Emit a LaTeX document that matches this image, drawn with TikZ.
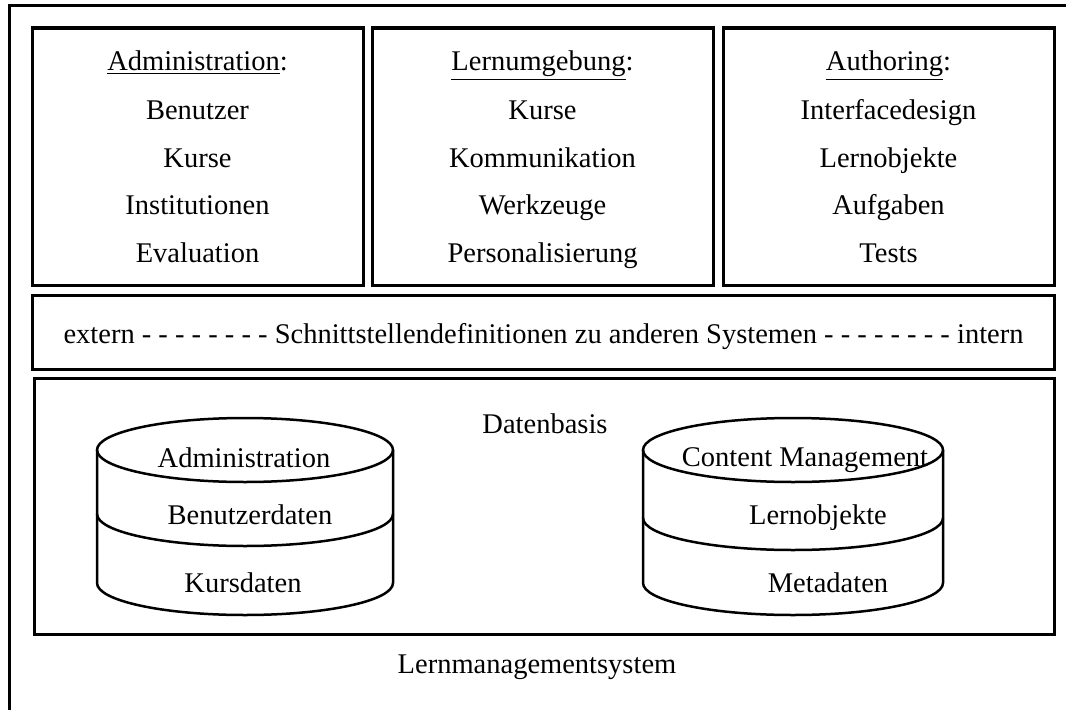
\documentclass[tikz,border=0pt]{standalone}
\usepackage{fontspec}
\setmainfont{Liberation Serif}
\begin{document}
\begin{tikzpicture}[x=0.5pt,y=0.5pt,
  frame/.style={draw=black, line width=1.5pt, line join=miter},
  box/.style={frame, anchor=south west, inner sep=0pt, outer sep=0pt},
  cyl/.style={draw=black, line width=1.25pt},
  txt/.style={anchor=base, inner sep=0pt, font=\fontsize{14.25}{17}\selectfont}]
\clip (0,0) rectangle (1066,709);
% outer frame (only left and top visible)
\draw[frame] (9,-10) -- (9,703) -- (1080,703);
% top boxes
\node[box, minimum width=165.5pt, minimum height=128.5pt] (bAdm) at (32,424) {};
\node[box, minimum width=170.5pt, minimum height=128.5pt] (bLern) at (372,424) {};
\node[box, minimum width=165.5pt, minimum height=128.5pt] (bAuth) at (723,424) {};
% interface box
\node[box, minimum width=511pt, minimum height=37pt] (bIf) at (32,340) {};
% database box
\node[box, minimum width=510pt, minimum height=128pt] (bDb) at (34,75) {};
% texts top boxes
\node[txt] (a0) at (197.5,639) {\underline{Administration}:};
\node[txt] (a1) at (197.5,590) {Benutzer};
\node[txt] (a2) at (197.5,542) {Kurse};
\node[txt] (a3) at (197.5,494.5) {Institutionen};
\node[txt] (a4) at (197.5,447) {Evaluation};
\node[txt] (l0) at (542.5,639) {\underline{Lernumgebung}:};
\node[txt] (l1) at (542.5,590) {Kurse};
\node[txt] (l2) at (542.5,542) {Kommunikation};
\node[txt] (l3) at (542.5,494.5) {Werkzeuge};
\node[txt] (l4) at (542.5,447) {Personalisierung};
\node[txt] (u0) at (888.5,639) {\underline{Authoring}:};
\node[txt] (u1) at (888.5,590) {Interfacedesign};
\node[txt] (u2) at (888.5,542) {Lernobjekte};
\node[txt] (u3) at (888.5,494.5) {Aufgaben};
\node[txt] (u4) at (888.5,447) {Tests};
% interface text
\node[txt] (ift) at (543.5,366) {extern - - - - - - - - Schnittstellendefinitionen zu anderen Systemen - - - - - - - - intern};
% database
\node[txt] (dbt) at (545,276) {Datenbasis};
% left cylinder
\draw[cyl] (245,259) ellipse [x radius=148, y radius=32];
\draw[cyl] (97,259) -- (97,126) arc[start angle=180, end angle=360, x radius=148, y radius=32] -- (393,259);
\draw[cyl] (97,195) arc[start angle=180, end angle=360, x radius=148, y radius=32];
\node[txt] (c1a) at (244,242) {Administration};
\node[txt] (c1b) at (250,185) {Benutzerdaten};
\node[txt] (c1c) at (243,117) {Kursdaten};
% right cylinder
\draw[cyl] (793,259) ellipse [x radius=150, y radius=32];
\draw[cyl] (643,259) -- (643,126) arc[start angle=180, end angle=360, x radius=150, y radius=32] -- (943,259);
\draw[cyl] (643,191) arc[start angle=180, end angle=360, x radius=150, y radius=32];
\node[txt] (c2a) at (805,243) {Content Management};
\node[txt] (c2b) at (818,185) {Lernobjekte};
\node[txt] (c2c) at (828,117) {Metadaten};
% caption
\node[txt] (cap) at (537,36) {Lernmanagementsystem};
\end{tikzpicture}
\end{document}
